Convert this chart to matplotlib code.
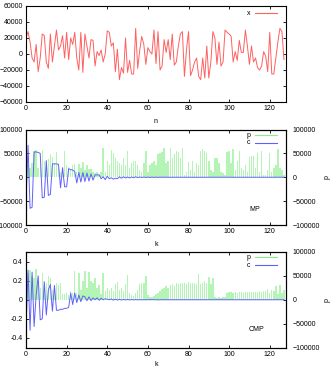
import numpy as np
import matplotlib
matplotlib.use("Agg")
import matplotlib.pyplot as plt
from matplotlib.lines import Line2D

plt.rcParams['font.family'] = ['Liberation Sans', 'DejaVu Sans']
plt.rcParams['font.size'] = 5

# ---------------- data ----------------
x_vals = [
    20000, 28000, 15000, -5000, -10000, 12000, -22000, -5000, 25000, 23000,
    -10000, -18000, 25000, -10000, 10000, 30000, 5000, 10000, 23000, -5000,
    27000, -7000, 20000, 12000, 27000, -5000, -20000, 27000, -23000, 25000,
    10000, -5000, 18000, 17000, -15000, 3000, -2000, 5000, -10000, 0,
    29000, 27000, 10000, 14000, -22000, 6000, -32000, -17000, -24000, 20000,
    -23000, -8000, -25000, -25000, 32000, -18000, 5000, 22000, 12000, -13000,
    8000, 3000, 0, 30000, -12000, 28000, -20000, -15000, 18000, 2000,
    18000, -7000, 25000, -14000, -10000, 10000, 25000, 28000, -28000, 5000,
    28000, -27000, -20000, -10000, -5000, -28000, -32000, -5000, -30000, 10000,
    -30000, -10000, 28000, 20000, -13000, 15000, -15000, -10000, 30000, 27000,
    25000, 22000, -10000, 3000, -8000, 17000, 2000, 2000, 30000, 10000,
    -13000, 10000, -10000, -5000, -17000, -20000, -15000, 3000, -3000, -22000,
    27000, -25000, -25000, -5000, 15000, 32000, 28000, -7000,
]

p_mp = [
    35000, 25000, 20000, 30000, 55000, 57000, 20000, 45000, 58000, 35000,
    30000, 38000, 48000, 42000, 30000, 53000, 20000, 12000, 15000, 55000,
    25000, 22000, 15000, 25000, 27000, 12000, 28000, 20000, 32000, 15000,
    25000, 17000, 18000, 12000, 8000, 12000, 5000, 10000, 62000, 12000,
    35000, 25000, 58000, 50000, 40000, 35000, 30000, 25000, 40000, 25000,
    55000, 20000, 30000, 33000, 35000, 25000, 15000, 10000, 30000, 55000,
    10000, 25000, 30000, 35000, 25000, 48000, 50000, 53000, 62000, 30000,
    35000, 62000, 40000, 48000, 55000, 52000, 40000, 62000, 5000, 10000,
    32000, 15000, 35000, 10000, 30000, 25000, 55000, 60000, 55000, 50000,
    35000, 15000, 10000, 40000, 40000, 30000, 10000, 8000, 5000, 52000,
    55000, 30000, 60000, 15000, 35000, 55000, 20000, 15000, 25000, 10000,
    42000, 45000, 45000, 20000, 50000, 10000, 55000, 5000, 5000, 15000,
    50000, 10000, 20000, 25000, 60000, 20000, 15000, 5000,
]

c_mp = [
    -50000, 67000, -65000, -63000, 53000, 53000, 52000, 50000, -43000, -42000,
    35000, -38000, -36000, 28000, 28000, 28000, 27000, -22000, 20000, -20000,
    -20000, 18000, 16000, 15000, 12000, -12000, 10000, -10000, 10000, -9000,
    9000, -8000, 7000, -6000, 5000, 5000, 5000, -3000, 1000, -5000,
    2000, -3000, -1000, -4000, -2000, -3000, 1000, -2000, 1000, -1500,
    500, -1500, 500, -1000, 1000, -800, 600, -600, 500, -500,
    300, -400, 300, -300, 200, -300, 200, -200, 200, -200,
    100, -200, 100, -100, 100, -100, 100, -100, 50, -100,
    50, -50, 50, -50, 50, -50, 0, -50, 0, -50,
    0, 0, -50, 0, 0, -50, 0, 0, 0, -50,
    0, 0, 0, 0, -50, 0, 0, 0, 0, 0,
    -50, 0, 0, 0, 0, 0, 0, 0, 0, 0,
    0, 0, 0, 0, 0, 0, 0, 0,
]

p_cmp = [
    60000, 55000, 62000, 50000, 45000, 65000, 30000, 25000, 55000, 20000,
    35000, 50000, 45000, 20000, 15000, 35000, 30000, 36000, 12000, 12000,
    14000, 10000, 18000, 15000, 60000, 15000, 55000, 20000, 40000, 60000,
    25000, 58000, 40000, 35000, 45000, 25000, 30000, 12000, 57000, 18000,
    25000, 20000, 25000, 18000, 32000, 37000, 20000, 25000, 18000, 33000,
    52000, 15000, 10000, 8000, 15000, 20000, 33000, 35000, 35000, 50000,
    10000, 6000, 5000, 8000, 12000, 15000, 18000, 22000, 25000, 28000,
    25000, 30000, 33000, 28000, 35000, 33000, 35000, 35000, 36000, 34000,
    37000, 35000, 36000, 35000, 34000, 54000, 33000, 36000, 40000, 35000,
    47000, 33000, 46000, 5000, 4000, 5000, 4000, 5000, 5000, 15000,
    16000, 16000, 15000, 16000, 15000, 16000, 16000, 15000, 16000, 16000,
    17000, 16000, 17000, 16000, 17000, 18000, 17000, 18000, 19000, 22000,
    15000, 20000, 18000, 28000, 12000, 30000, 15000, 20000,
]

c_cmp = [
    -0.30, 0.31, -0.32, 0.29, -0.28, 0.05, 0.25, -0.21, -0.20, 0.19,
    -0.16, 0.10, 0.16, -0.12, 0.15, -0.11, -0.11, -0.10, -0.10, -0.09,
    -0.09, -0.08, 0.07, -0.05, 0.07, -0.03, 0.05, -0.02, 0.04, 0.03,
    -0.01, 0.03, -0.01, 0.02, 0.0, 0.02, -0.005, 0.015, 0.0, 0.01,
    0.005, 0.0, 0.008, -0.004, 0.006, -0.003, 0.004, -0.003, 0.003, -0.002,
    0.003, -0.002, 0.002, -0.002, 0.002, -0.001, 0.001, -0.001, 0.001, -0.001,
    0.001, 0.0, 0.001, 0.0, 0.0, -0.001, 0.0, 0.0, 0.0, -0.001,
    0.0, 0.0, 0.0, 0.0, -0.001, 0.0, 0.0, 0.0, 0.0, 0.0,
    -0.001, 0.0, 0.0, 0.0, 0.0, 0.0, 0.0, 0.0, 0.0, 0.0,
    0.0, 0.0, 0.0, 0.0, 0.0, 0.0, 0.0, 0.0, 0.0, 0.0,
    0.0, 0.0, 0.0, 0.0, 0.0, 0.0, 0.0, 0.0, 0.0, 0.0,
    0.0, 0.0, 0.0, 0.0, 0.0, 0.0, 0.0, 0.0, 0.0, 0.0,
    0.0, 0.0, 0.0, 0.0, 0.0, 0.0, 0.0, 0.0,
]

x_ticks = [0, 20, 40, 60, 80, 100, 120]
y1_ticks = [-60000, -40000, -20000, 0, 20000, 40000, 60000]
mp_ticks = [-100000, -50000, 0, 50000, 100000]
cmp_ticks = [-0.4, -0.2, 0, 0.2, 0.4]

RED = '#ff6060'
BLUE = '#6060ff'
GREEN_BAR = '#b4f4b4'
GREEN_LINE = '#8aec8a'

n = np.arange(len(x_vals))
k = np.arange(len(p_mp))

W, H = 331, 368
fig = plt.figure(figsize=(W / 100, H / 100), dpi=100)


def rect(l, r, t, b):
    return [l / W, 1 - b / H, (r - l) / W, (b - t) / H]


def style(ax, right_labels=False):
    ax.tick_params(direction='in', length=2.5, width=0.6, pad=2.2,
                   top=True, right=not right_labels, labelsize=5)
    for s in ax.spines.values():
        s.set_linewidth(0.8)
    ax.set_xlim(0, 128)
    ax.set_xticks(x_ticks)


def legend(ax, entries, y0, dy):
    for i, (lab, col) in enumerate(entries):
        y = y0 - i * dy
        ax.text(0.862, y, lab, transform=ax.transAxes, ha='right',
                va='center', fontsize=5)
        ax.add_line(Line2D([0.88, 0.965], [y, y], transform=ax.transAxes,
                           color=col, lw=0.8))


def right_axis(axr):
    axr.tick_params(direction='in', length=2.5, width=0.6, pad=5,
                    labelsize=5)
    axr.set_ylabel('p', fontsize=5, rotation=90)
    axr.yaxis.set_label_coords(1.143, 0.5)


# ---- panel 1 ----
ax1 = fig.add_axes(rect(26, 286, 6, 102))
ax1.plot(n, x_vals, color=RED, lw=0.7)
ax1.set_ylim(-60000, 60000)
ax1.set_yticks(y1_ticks)
style(ax1)
ax1.set_xlabel('n', fontsize=5, labelpad=4)
legend(ax1, [('x', RED)], 0.924, 0.08)

# ---- panel 2 ----
ax2 = fig.add_axes(rect(26, 286, 129.5, 225))
ax2r = ax2.twinx()
ax2r.bar(k, p_mp, width=0.7, color=GREEN_BAR, linewidth=0)
ax2.plot(k, c_mp, color=BLUE, lw=0.7)
ax2.set_zorder(ax2r.get_zorder() + 1)
ax2.patch.set_visible(False)
for a in (ax2, ax2r):
    a.set_ylim(-100000, 100000)
    a.set_yticks(mp_ticks)
style(ax2, right_labels=True)
right_axis(ax2r)
ax2.set_xlabel('k', fontsize=5, labelpad=4)
legend(ax2, [('p', GREEN_LINE), ('c', BLUE)], 0.94, 0.08)
ax2.text(0.88, 0.16, 'MP', transform=ax2.transAxes, ha='center',
         va='center', fontsize=5)

# ---- panel 3 ----
ax3 = fig.add_axes(rect(26, 286, 252, 347.5))
ax3r = ax3.twinx()
ax3r.bar(k, p_cmp, width=0.7, color=GREEN_BAR, linewidth=0)
ax3.plot(k, c_cmp, color=BLUE, lw=0.7)
ax3.set_zorder(ax3r.get_zorder() + 1)
ax3.patch.set_visible(False)
ax3.set_ylim(-0.5, 0.5)
ax3.set_yticks(cmp_ticks)
ax3.set_yticklabels(['-0.4', '-0.2', '0', '0.2', '0.4'])
ax3r.set_ylim(-100000, 100000)
ax3r.set_yticks(mp_ticks)
style(ax3, right_labels=True)
right_axis(ax3r)
ax3.set_xlabel('k', fontsize=5, labelpad=2.5)
ax3.set_ylabel('c', fontsize=5)
ax3.yaxis.set_label_coords(-0.105, 0.5)
legend(ax3, [('p', GREEN_LINE), ('c', BLUE)], 0.945, 0.085)
ax3.text(0.888, 0.19, 'CMP', transform=ax3.transAxes, ha='center',
         va='center', fontsize=5)

fig.savefig('out.png', dpi=100)
